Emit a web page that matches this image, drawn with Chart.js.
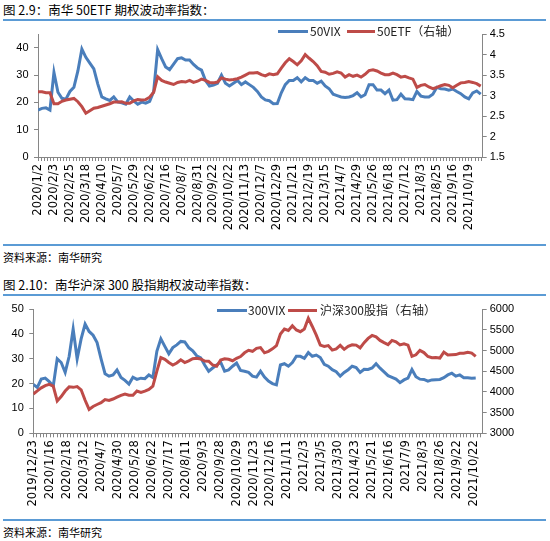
<!DOCTYPE html>
<html>
<head>
<meta charset="utf-8">
<script src="https://cdn.jsdelivr.net/npm/chart.js@4.4.1/dist/chart.umd.min.js"></script>
<style>
  html, body { margin: 0; padding: 0; background: #fff; }
  body { width: 550px; height: 541px; position: relative; overflow: hidden;
         font-family: "Noto Sans CJK SC", sans-serif; color: #000; }
  .title { position: absolute; left: 3px; font-size: 12.5px; line-height: 16px; white-space: nowrap; }
  .rule { position: absolute; left: 3px; width: 543px; height: 2px; background: #5b9bd5; }
  .source { position: absolute; left: 3px; font-size: 11px; line-height: 14px; white-space: nowrap; }
  .box { position: absolute; left: 0; width: 550px; height: 218px; }
  .sw { position: absolute; height: 3px; }
  .lg { position: absolute; font-size: 12px; line-height: 14px; white-space: nowrap; color: #222; }
</style>
</head>
<body>
  <div class="title" style="top:2px">图 2.9：南华 50ETF 期权波动率指数：</div>
  <div class="rule" style="top:19px"></div>
  <div class="box" style="top:22px"><canvas id="chart50"></canvas></div>
  <div class="sw" style="left:278px;top:29.5px;width:30px;background:#4a7ebb"></div>
  <div class="lg" style="left:310px;top:24px">50VIX</div>
  <div class="sw" style="left:347px;top:29.5px;width:28px;background:#be4b48"></div>
  <div class="lg" style="left:377px;top:24px">50ETF（右轴）</div>
  <div class="rule" style="top:244px"></div>
  <div class="source" style="top:250px">资料来源：南华研究</div>

  <div class="title" style="top:277px">图 2.10：南华沪深 300 股指期权波动率指数：</div>
  <div class="rule" style="top:294px"></div>
  <div class="box" style="top:297px"><canvas id="chart300"></canvas></div>
  <div class="sw" style="left:217px;top:308.5px;width:30px;background:#4a7ebb"></div>
  <div class="lg" style="left:248px;top:303px">300VIX</div>
  <div class="sw" style="left:288px;top:308.5px;width:29px;background:#be4b48"></div>
  <div class="lg" style="left:320px;top:303px">沪深300股指（右轴）</div>
  <div class="rule" style="top:519px"></div>
  <div class="source" style="top:525px">资料来源：南华研究</div>

<script>
// one value every 4 trading days
const SAMPLE_STEP = 4;

const xLabels50 = ['2020/1/2', '2020/2/3', '2020/2/25', '2020/3/18', '2020/4/10', '2020/5/7', '2020/5/29',
  '2020/6/22', '2020/7/16', '2020/8/7', '2020/8/31', '2020/9/22', '2020/10/22', '2020/11/13', '2020/12/7',
  '2020/12/29', '2021/1/21', '2021/2/19', '2021/3/15', '2021/4/7', '2021/4/29', '2021/5/26', '2021/6/18',
  '2021/7/12', '2021/8/3', '2021/8/25', '2021/9/16', '2021/10/19'];

const xLabels300 = ['2019/12/23', '2020/1/16', '2020/2/18', '2020/3/12', '2020/4/7', '2020/4/30', '2020/5/28',
  '2020/6/22', '2020/7/17', '2020/8/11', '2020/9/3', '2020/9/28', '2020/10/29', '2020/11/23', '2020/12/16',
  '2021/1/11', '2021/2/3', '2021/3/5', '2021/3/30', '2021/4/23', '2021/5/21', '2021/6/16', '2021/7/9',
  '2021/8/3', '2021/8/26', '2021/9/22', '2021/10/22'];

const vix50 = [17.2, 17.8, 18, 17.2, 31, 23.7, 21.5, 21.2, 24, 25.5,
  31.5, 39.5, 36.5, 34.4, 32.3, 26.7, 22, 21.3, 20.7, 22,
  20.2, 19.8, 19.3, 22, 20.5, 19.3, 20.1, 19.7, 20.4, 24,
  39.3, 36, 33, 32, 34, 36, 36.3, 35.5, 35.5, 33.9,
  32.6, 31.8, 28, 26, 26.3, 27, 30, 27, 26, 27,
  28, 26.5, 27.5, 26.5, 25.5, 24, 22, 20.9, 20.6, 19.5,
  19.6, 23.5, 26.5, 28, 28, 29, 27.5, 29, 28, 28,
  27, 27.8, 26, 25, 23, 22.5, 22, 21.8, 22, 22.5,
  23.5, 22, 22.8, 26.5, 26.5, 24.5, 24.5, 23.2, 24.5, 20.8,
  21, 23, 21.3, 21.2, 21, 24, 22.3, 22, 22, 23,
  25.5, 25, 24.9, 24.5, 24.9, 24, 23.2, 22, 21.3, 23.5,
  24.2, 23];

const etf50 = [3.09, 3.09, 3.07, 3.07, 2.80, 2.80, 2.86, 2.89, 2.91, 2.93,
  2.85, 2.73, 2.57, 2.63, 2.69, 2.71, 2.74, 2.77, 2.80, 2.84,
  2.84, 2.85, 2.81, 2.81, 2.87, 2.90, 2.89, 2.90, 2.96, 3.08,
  3.46, 3.37, 3.33, 3.30, 3.27, 3.32, 3.34, 3.33, 3.37, 3.32,
  3.35, 3.40, 3.37, 3.32, 3.31, 3.33, 3.43, 3.40, 3.38, 3.39,
  3.41, 3.45, 3.50, 3.55, 3.55, 3.56, 3.51, 3.48, 3.53, 3.51,
  3.53, 3.67, 3.80, 3.90, 3.83, 3.75, 3.85, 4.00, 3.91, 3.83,
  3.73, 3.59, 3.57, 3.52, 3.54, 3.58, 3.55, 3.45, 3.51, 3.47,
  3.50, 3.45, 3.52, 3.61, 3.63, 3.60, 3.55, 3.51, 3.51, 3.55,
  3.51, 3.45, 3.47, 3.43, 3.40, 3.20, 3.25, 3.27, 3.21, 3.17,
  3.20, 3.24, 3.27, 3.25, 3.19, 3.25, 3.31, 3.32, 3.34, 3.32,
  3.29, 3.23];

const vix300 = [19.7, 18.5, 21.8, 22.2, 20.8, 19, 30, 28.5, 24.5, 31,
  42, 30, 38, 44, 41, 39.5, 36.5, 30, 24, 23,
  23.5, 25.5, 22.5, 21.3, 19.8, 22.6, 21.7, 22.2, 22, 23.5,
  22.5, 33, 38, 35, 32, 34.5, 35.6, 37, 36.8, 34.5,
  33.2, 31.2, 30.4, 27.5, 25, 26.3, 27.5, 28.6, 25, 25.5,
  27, 28.3, 25.3, 25, 24.5, 23, 22.6, 25, 22.6, 21,
  20, 19.5, 27.5, 28, 27, 28.5, 31, 31, 30.2, 32.5,
  31, 31.5, 30.5, 27.8, 27, 25.6, 24.8, 23, 24.5, 25.6,
  27, 26.5, 24.5, 25.8, 25.7, 26.3, 28, 26.2, 24.7, 23.2,
  22.5, 21.8, 20.4, 21.5, 22.2, 25.7, 22.8, 21.8, 21.7, 21,
  21.5, 21.6, 21.7, 22.4, 23.5, 24.2, 23, 23.5, 22.4, 22.4,
  22.2, 22.3];

const csi300 = [3948, 4026, 4098, 4152, 4182, 4140, 3780, 3888, 4020, 4122,
  4110, 4130, 4050, 3798, 3576, 3648, 3696, 3738, 3816, 3792,
  3828, 3876, 3918, 3948, 3918, 3918, 4020, 3990, 4020, 4062,
  4140, 4500, 4830, 4788, 4710, 4650, 4698, 4776, 4710, 4752,
  4800, 4812, 4794, 4746, 4740, 4650, 4620, 4770, 4800, 4788,
  4752, 4812, 4854, 4944, 5004, 4980, 5052, 5070, 4944, 4980,
  5040, 5118, 5400, 5520, 5484, 5598, 5496, 5454, 5520, 5778,
  5580, 5370, 5130, 5100, 5118, 5010, 5040, 5124, 5028, 5100,
  5136, 5130, 5064, 5190, 5292, 5364, 5328, 5244, 5190, 5142,
  5244, 5208, 5136, 5160, 5130, 4860, 4896, 5004, 4950, 4854,
  4824, 4830, 4818, 4962, 4890, 4896, 4902, 4932, 4932, 4956,
  4938, 4860];

const BLUE = '#4a7ebb';
const RED = '#be4b48';
const AXIS = '#868686';

Chart.defaults.font.family = '"Liberation Sans", Arial, sans-serif';

function toPoints(values) {
  return values.map((v, i) => ({ x: i * SAMPLE_STEP, y: v }));
}

function makeChart(id, o) {
  const ctx = document.getElementById(id).getContext('2d');
  const minorStep = o.labelStep / 5;

  return new Chart(ctx, {
    type: 'line',
    data: {
      datasets: [
        { label: o.names[0], data: toPoints(o.left), yAxisID: 'y', borderColor: BLUE,
          borderWidth: 3, pointRadius: 0, tension: 0, order: 2 },
        { label: o.names[1], data: toPoints(o.right), yAxisID: 'y1', borderColor: RED,
          borderWidth: 3, pointRadius: 0, tension: 0, order: 1 }
      ]
    },
    options: {
      responsive: true,
      maintainAspectRatio: false,
      animation: false,
      layout: { padding: { top: o.padTop, left: 0, right: 0, bottom: 0 } },
      plugins: { legend: { display: false }, tooltip: { enabled: false } },
      scales: {
        x: {
          type: 'linear',
          min: 0,
          max: o.xMax,
          afterBuildTicks: function (scale) {
            const ticks = [];
            for (let i = 0; i * minorStep <= o.xMax; i++) ticks.push({ value: i * minorStep });
            scale.ticks = ticks;
          },
          afterFit: function (scale) { scale.height = o.xHeight; },
          grid: { drawOnChartArea: false, drawTicks: true, tickLength: 4, color: AXIS },
          border: { color: AXIS },
          ticks: {
            autoSkip: false,
            minRotation: 90,
            maxRotation: 90,
            padding: 3,
            color: '#000',
            font: { family: '"DejaVu Sans", sans-serif', size: 11.5 },
            callback: function (value, i) {
              return i % 5 === 0 ? (o.labels[i / 5] || '') : '';
            }
          }
        },
        y: {
          position: 'left',
          min: o.leftMin,
          max: o.leftMax,
          afterFit: function (scale) { scale.width = o.leftWidth; },
          grid: { drawOnChartArea: false, tickLength: 4, color: AXIS },
          border: { color: AXIS },
          ticks: { stepSize: o.leftStep, padding: 5.5, color: '#000', font: { size: 11 },
            callback: v => String(v) }
        },
        y1: {
          position: 'right',
          min: o.rightMin,
          max: o.rightMax,
          afterFit: function (scale) { scale.width = o.rightWidth; },
          grid: { drawOnChartArea: false, tickLength: 4, color: AXIS },
          border: { color: AXIS },
          ticks: { stepSize: o.rightStep, padding: 3, color: '#000', font: { size: 11 },
            callback: v => String(v) }
        }
      }
    }
  });
}

makeChart('chart50', {
  names: ['50VIX', '50ETF（右轴）'],
  left: vix50, right: etf50, labels: xLabels50,
  labelStep: 16, xMax: 446,
  leftMin: 0, leftMax: 45, leftStep: 5,
  rightMin: 1.5, rightMax: 4.5, rightStep: 0.5,
  padTop: 8.5, xHeight: 83, leftWidth: 38, rightWidth: 67.3
});

makeChart('chart300', {
  names: ['300VIX', '沪深300股指（右轴）'],
  left: vix300, right: csi300, labels: xLabels300,
  labelStep: 17, xMax: 451,
  leftMin: 0, leftMax: 50, leftStep: 5,
  rightMin: 3000, rightMax: 6000, rightStep: 500,
  padTop: 9.7, xHeight: 81.7, leftWidth: 33.3, rightWidth: 67.3
});
</script>
</body>
</html>
